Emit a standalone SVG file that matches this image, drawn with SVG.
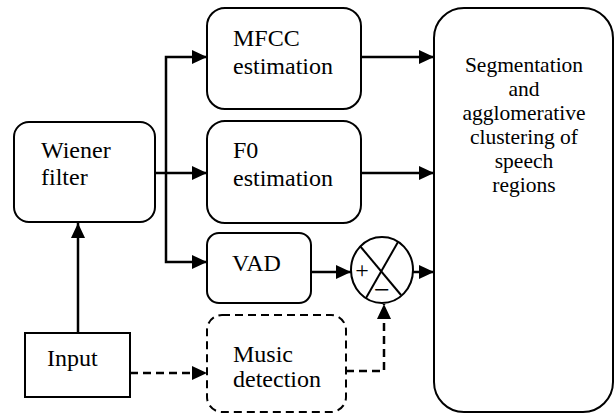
<svg xmlns="http://www.w3.org/2000/svg" width="614" height="414" viewBox="0 0 614 414">
<style>
.box{fill:#fff;stroke:#000;stroke-width:2}
.dash{stroke-dasharray:8,5}
.t{font-family:'Liberation Serif','Times New Roman','DejaVu Serif',serif;font-size:24px;fill:#000}
.tb{font-family:'Liberation Serif','Times New Roman','DejaVu Serif',serif;font-size:21.5px;fill:#000;text-anchor:middle}
.s{font-family:'Liberation Serif','Times New Roman','DejaVu Serif',serif;fill:#000;text-anchor:middle}
.c{fill:none;stroke:#000;stroke-width:2.5}
</style>
<defs>
<marker id="ah" markerUnits="userSpaceOnUse" markerWidth="15" markerHeight="14" refX="15" refY="7" orient="auto" viewBox="0 0 15 14">
<path d="M0,0 L15,7 L0,14 z" fill="#000"/>
</marker>
</defs>
<g id="connectors">
<path class="c" d="M155,173 L207,173" marker-end="url(#ah)"/>
<path class="c" d="M166,173 L166,57 L207,57" marker-end="url(#ah)"/>
<path class="c" d="M166,173 L166,262 L207,262" marker-end="url(#ah)"/>
<path class="c" d="M361,57 L434,57" marker-end="url(#ah)"/>
<path class="c" d="M361,173 L434,173" marker-end="url(#ah)"/>
<path class="c" d="M311,272 L351,272" marker-end="url(#ah)"/>
<path class="c" d="M413,272 L434,272" marker-end="url(#ah)"/>
<path class="c" d="M78,333 L78,223" marker-end="url(#ah)"/>
<path class="c dash" d="M130,373 L207,373" marker-end="url(#ah)"/>
<path class="c dash" d="M346,371 L384,371 L384,304" marker-end="url(#ah)"/>
</g>
<g id="wiener">
<rect class="box" x="14" y="122" width="141" height="100" rx="15"/>
<text class="t" x="41" y="158">Wiener</text>
<text class="t" x="41" y="185">filter</text>
</g>
<g id="mfcc">
<rect class="box" x="207" y="8" width="154" height="101" rx="18"/>
<text class="t" x="233" y="46">MFCC</text>
<text class="t" x="233" y="74">estimation</text>
</g>
<g id="f0">
<rect class="box" x="207" y="121" width="154" height="102" rx="18"/>
<text class="t" x="233" y="158">F0</text>
<text class="t" x="233" y="186">estimation</text>
</g>
<g id="vad">
<rect class="box" x="207" y="233" width="104" height="70" rx="12"/>
<text class="t" x="232" y="271">VAD</text>
</g>
<g id="music">
<rect class="box dash" x="207" y="315" width="139" height="97" rx="15"/>
<text class="t" x="233" y="362">Music</text>
<text class="t" x="233" y="387">detection</text>
</g>
<g id="input">
<rect class="box" x="25" y="333" width="105" height="64"/>
<text class="t" x="47" y="366">Input</text>
</g>
<g id="sum">
<ellipse class="box" cx="382" cy="270" rx="31" ry="33"/>
<line x1="360" y1="246" x2="401" y2="295" stroke="#000" stroke-width="2"/>
<line x1="398" y1="242" x2="366" y2="298" stroke="#000" stroke-width="2"/>
<text class="s" x="362" y="278" font-size="24">+</text>
<text class="s" x="382" y="299" font-size="28">−</text>
</g>
<g id="seg">
<rect class="box" x="434" y="8" width="179" height="404" rx="30"/>
<text class="tb" x="524" y="72">Segmentation</text>
<text class="tb" x="524" y="96">and</text>
<text class="tb" x="524" y="120">agglomerative</text>
<text class="tb" x="524" y="144">clustering of</text>
<text class="tb" x="524" y="168">speech</text>
<text class="tb" x="524" y="192">regions</text>
</g>
</svg>
